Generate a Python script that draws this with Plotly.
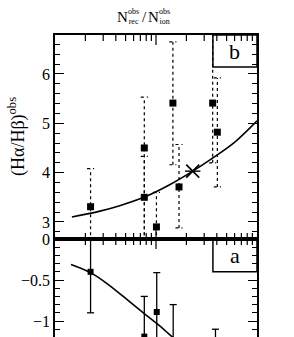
import math
import plotly.graph_objects as go

# ---- data (x on log axis, y values) ----
# panel b (top): Halpha/Hbeta observed
b_x = [0.225, 0.766, 0.766, 1.01, 1.47, 1.69, 3.64, 4.05]
b_y = [3.31, 4.50, 3.50, 2.90, 5.41, 3.71, 5.41, 4.82]
b_lo = [2.0, 2.0, 2.0, 2.0, 4.16, 2.88, 4.20, 3.71]
b_hi = [4.08, 5.53, 4.33, 3.60, 6.65, 4.57, 7.50, 5.92]
star_x = [2.31]
star_y = [4.03]
b_curve_x = [0.147, 0.279, 0.437, 0.759, 1.38, 2.31, 3.66, 6.03, 10.0]
b_curve_y = [3.10, 3.22, 3.33, 3.50, 3.76, 4.03, 4.30, 4.62, 5.05]

# panel a (bottom)
a_x = [0.225, 0.766, 1.017, 1.48, 3.88]
a_y = [-0.40, -1.19, -0.89, -1.30, -1.60]
a_lo = [-0.90, -1.68, -1.37, -1.80, -2.10]
a_hi = [0.10, -0.70, -0.41, -0.80, -1.10]
a_curve_x = [0.144, 0.225, 0.325, 0.474, 0.766, 1.016, 1.32, 1.78]
a_curve_y = [-0.31, -0.41, -0.54, -0.70, -0.91, -1.03, -1.15, -1.29]

# tick positions on the log axis
x_major = [1]
x_minor = [0.2, 0.3, 0.4, 0.5, 0.6, 0.7, 0.8, 0.9, 2, 3, 4, 5, 6, 7, 8, 9]

TOP_RANGE = [2.655, 6.79]
LOW_RANGE = [-1.195, 0]
TOP_PX, LOW_PX = 204, 98

CAP = 10 ** 0.035  # cap half-width factor on the log axis

def bars(xs, lo, hi):
    X, Y = [], []
    for x, l, h in zip(xs, lo, hi):
        X += [x, x, None]
        Y += [l, h, None]
    CX, CY = [], []
    for x, l, h in zip(xs, lo, hi):
        CX += [x / CAP, x * CAP, None, x / CAP, x * CAP, None]
        CY += [l, l, None, h, h, None]
    return X, Y, CX, CY

fig = go.Figure()
ink = "black"

X, Y, CX, CY = bars(b_x, b_lo, b_hi)
fig.add_trace(go.Scatter(x=X, y=Y, mode="lines", line=dict(color=ink, width=1.2, dash="dot"),
                         xaxis="x", yaxis="y", showlegend=False))
fig.add_trace(go.Scatter(x=CX, y=CY, mode="lines", line=dict(color=ink, width=1.2, dash="dot"),
                         xaxis="x", yaxis="y", showlegend=False))
fig.add_trace(go.Scatter(x=b_curve_x, y=b_curve_y, mode="lines", line=dict(color=ink, width=1.6, shape="spline"),
                         xaxis="x", yaxis="y", showlegend=False))
fig.add_trace(go.Scatter(x=b_x, y=b_y, mode="markers", marker=dict(symbol="square", size=7, color=ink),
                         xaxis="x", yaxis="y", showlegend=False))
fig.add_trace(go.Scatter(x=star_x, y=star_y, mode="markers",
                         marker=dict(symbol="x-thin-open", size=13, color=ink, line=dict(color=ink, width=1.6)),
                         xaxis="x", yaxis="y", showlegend=False))
fig.add_trace(go.Scatter(x=star_x, y=star_y, mode="markers",
                         marker=dict(symbol="line-ew-open", size=11, color=ink, line=dict(color=ink, width=1.4)),
                         xaxis="x", yaxis="y", showlegend=False))

X, Y, CX, CY = bars(a_x, a_lo, a_hi)
fig.add_trace(go.Scatter(x=X, y=Y, mode="lines", line=dict(color=ink, width=1.3),
                         xaxis="x2", yaxis="y2", showlegend=False))
fig.add_trace(go.Scatter(x=CX, y=CY, mode="lines", line=dict(color=ink, width=1.3),
                         xaxis="x2", yaxis="y2", showlegend=False))
fig.add_trace(go.Scatter(x=a_curve_x, y=a_curve_y, mode="lines", line=dict(color=ink, width=1.6, shape="spline"),
                         xaxis="x2", yaxis="y2", showlegend=False))
fig.add_trace(go.Scatter(x=a_x, y=a_y, mode="markers", marker=dict(symbol="square", size=6, color=ink),
                         xaxis="x2", yaxis="y2", showlegend=False))

# x-axis tick marks (inside) drawn through the axes' own scales
def tick_segments(vals, rng, npx, length_px, at_top, at_bottom):
    u = (rng[1] - rng[0]) / npx * length_px
    X, Y = [], []
    for t in vals:
        if at_bottom:
            X += [t, t, None]
            Y += [rng[0], rng[0] + u, None]
        if at_top:
            X += [t, t, None]
            Y += [rng[1] - u, rng[1], None]
    return X, Y

for vals, L in ((x_major, 10), (x_minor, 6)):
    tx, tyv = tick_segments(vals, TOP_RANGE, TOP_PX, L, True, True)
    fig.add_trace(go.Scatter(x=tx, y=tyv, mode="lines", line=dict(color=ink, width=1.2),
                             xaxis="x", yaxis="y", showlegend=False, hoverinfo="skip"))
    tx, tyv = tick_segments(vals, LOW_RANGE, LOW_PX, L, True, False)
    fig.add_trace(go.Scatter(x=tx, y=tyv, mode="lines", line=dict(color=ink, width=1.2),
                             xaxis="x2", yaxis="y2", showlegend=False, hoverinfo="skip"))

split = LOW_PX / (LOW_PX + TOP_PX)
tickfont = dict(family="Liberation Serif", size=16, color=ink)
clear = "rgba(0,0,0,0)"

def xaxis_style(**extra):
    d = dict(type="log", range=[-1, 1], showticklabels=False, ticks="",
             showgrid=False, zeroline=False, showline=True, linecolor=ink, linewidth=1.5)
    d.update(extra)
    return d

fig.update_layout(
    width=294, height=337,
    margin=dict(l=55, r=37, t=35, b=0, autoexpand=False),
    paper_bgcolor="white", plot_bgcolor="white",
    xaxis=xaxis_style(domain=[0, 1], anchor="y", mirror=True),
    xaxis2=xaxis_style(domain=[0, 1], anchor="y2", side="top"),
    yaxis=dict(domain=[split, 1], anchor="x", range=TOP_RANGE, dtick=1, tick0=0, automargin=False,
               gridcolor=clear, zeroline=False, showline=True, mirror="ticks", linecolor=ink, linewidth=1.5,
               ticks="inside", ticklen=9, tickwidth=1.3, tickcolor=ink, tickfont=tickfont,
               minor=dict(dtick=0.2, ticks="inside", ticklen=5, tickwidth=1.1, tickcolor=ink, gridcolor=clear)),
    yaxis2=dict(domain=[0, split], anchor="x2", range=LOW_RANGE, dtick=0.5, tick0=0, automargin=False,
                gridcolor=clear, zeroline=False, showline=True, mirror="ticks", linecolor=ink, linewidth=1.5,
                ticks="inside", ticklen=9, tickwidth=1.3, tickcolor=ink, tickfont=tickfont,
                minor=dict(dtick=0.1, ticks="inside", ticklen=5, tickwidth=1.1, tickcolor=ink, gridcolor=clear)),
    shapes=[
        dict(type="rect", xref="x", yref="y", x0=3.66, x1=10, y0=6.14, y1=6.79,
             line=dict(color=ink, width=1.5), fillcolor=clear),
        dict(type="rect", xref="x2", yref="y2", x0=3.66, x1=10, y0=-0.40, y1=0,
             line=dict(color=ink, width=1.5), fillcolor=clear),
    ],
)

def px(x):
    return (x - 55) / 202
def py(y):
    return 1 - (y - 35) / 302

# title N^obs_rec / N^obs_ion built from pieces (stacked super/subscripts)
title_parts = [("N", 122, 15), ("obs<br>rec", 133, 8), ("/", 144, 15), ("N", 153, 15), ("obs<br>ion", 164, 8)]
for txt, xp, fs in title_parts:
    fig.add_annotation(text=txt, xref="paper", yref="paper", x=px(xp), y=py(17), xanchor="center", yanchor="middle",
                       showarrow=False, font=dict(family="Liberation Serif", size=fs, color=ink))
fig.add_annotation(text="(Hα/Hβ)<sup>obs</sup>", xref="paper", yref="paper", x=px(17), y=py(137),
                   xanchor="center", yanchor="middle", textangle=-90, showarrow=False,
                   font=dict(family="Liberation Serif", size=18, color=ink))
fig.add_annotation(text="b", xref="x", yref="y", x=math.log10(6.0), y=6.46, showarrow=False,
                   font=dict(family="Liberation Serif", size=22, color=ink))
fig.add_annotation(text="a", xref="x2", yref="y2", x=math.log10(6.0), y=-0.20, showarrow=False,
                   font=dict(family="Liberation Serif", size=22, color=ink))

fig.write_html("out.html", config={"displayModeBar": False},
               post_script="document.body.style.margin='0';")
